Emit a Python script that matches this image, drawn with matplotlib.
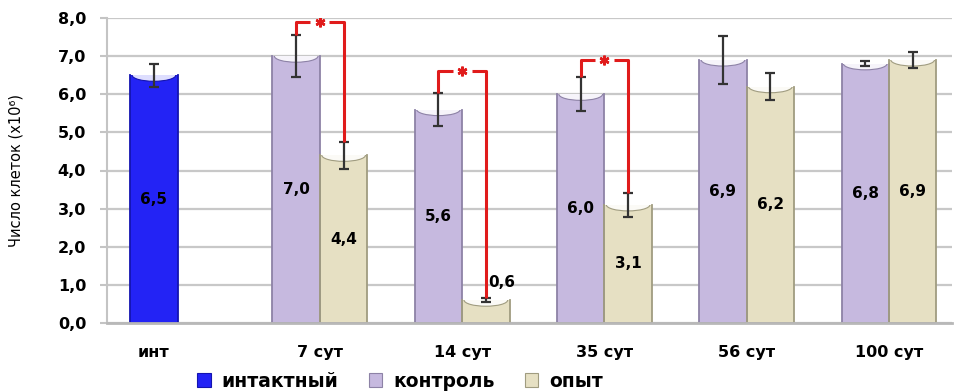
import numpy as np
import matplotlib.pyplot as plt
from matplotlib.patches import Ellipse, Patch
from matplotlib.colors import to_rgb


# cell counts (x10^6), mean and error
groups = ['инт', '7 сут', '14 сут', '35 сут', '56 сут', '100 сут']
intact_val = 6.5
intact_err = 0.3
control = [7.0, 5.6, 6.0, 6.9, 6.8]
control_err = [0.55, 0.43, 0.45, 0.62, 0.07]
opyt = [4.4, 0.6, 3.1, 6.2, 6.9]
opyt_err = [0.35, 0.05, 0.32, 0.35, 0.2]

# significant differences control vs опыт: day index and bracket height
sig_days = [0, 1, 2]
sig_top = [7.9, 6.6, 6.9]

series_names = ['интактный', 'контроль', 'опыт']

blue = '#2323f5'
lilac = '#c6b9df'
beige = '#e6e0c3'
edges = {blue: '#1414b0', lilac: '#8d82a6', beige: '#a09c80'}


def light(c, k=0.85):
    r = np.array(to_rgb(c))
    return tuple(r + (1 - r) * k)


def fmt(v):
    return f'{v:.1f}'.replace('.', ',')


fig = plt.figure(figsize=(9.57, 3.92), dpi=100)
ax = fig.add_axes([107 / 957, 69 / 392, 845 / 957, 305 / 392])

centers = 3 * (np.arange(len(control)) + 1)
w = 1.0


def draw_bar(x, v, err, color):
    b = ax.bar(x, v, width=w, color=color, edgecolor='none', zorder=2)[0]
    # side walls
    ax.plot([x - w / 2, x - w / 2, x + w / 2, x + w / 2], [v, 0, 0, v],
            color=edges[color], lw=1.3, zorder=2.5)
    notch = Ellipse((x, v), 0.92 * w, 0.32, facecolor=light(color),
                    edgecolor=edges[color], lw=0.8, zorder=3)
    ax.add_patch(notch)
    notch.set_clip_path(b)
    ax.errorbar(x, v, yerr=err, fmt='none', ecolor='#333333',
                elinewidth=1.6, capsize=3.5, capthick=1.6, zorder=4)
    if v < 1:
        ax.text(x + 0.05, v + 0.45, fmt(v), ha='left', va='center',
                fontsize=11, fontweight='bold', zorder=5)
    else:
        ax.text(x, v / 2, fmt(v), ha='center', va='center',
                fontsize=11, fontweight='bold', zorder=5)


draw_bar(-0.5, intact_val, intact_err, blue)
for i in range(len(control)):
    draw_bar(centers[i] - 0.5, control[i], control_err[i], lilac)
    draw_bar(centers[i] + 0.5, opyt[i], opyt_err[i], beige)

# significance brackets
red = '#e01b1b'
gap = 0.2
for d, top in zip(sig_days, sig_top):
    xl = centers[d] - 0.5
    xr = centers[d] + 0.5
    yl = control[d] + control_err[d]
    yr = opyt[d] + opyt_err[d]
    xm = centers[d]
    ax.plot([xl, xl, xm - gap], [yl, top, top], color=red, lw=2.2,
            solid_capstyle='butt', zorder=6)
    ax.plot([xm + gap, xr, xr], [top, top, yr], color=red, lw=2.2,
            solid_capstyle='butt', zorder=6)
    ax.plot(xm, top, marker=(6, 2, 0), ms=7, mew=1.8, color=red, zorder=6)

ax.set_xlim(-1.49, 16.33)
ax.set_ylim(0, 8)
ax.set_yticks(np.arange(0, 9))
ax.set_yticklabels([fmt(v) for v in np.arange(0, 9)],
                   fontsize=11.5, fontweight='bold')
ax.set_xticks([-0.5] + list(centers))
ax.set_xticklabels(groups, fontsize=11.5, fontweight='bold')
ax.tick_params(axis='x', length=0, pad=16)
ax.tick_params(axis='y', length=5, width=1.5, color='#c4c4c4', pad=10)

ax.grid(axis='y', color='#c8c8c8', lw=1.6, zorder=0)
ax.set_axisbelow(True)
for s in ['top', 'right']:
    ax.spines[s].set_visible(False)
ax.spines['left'].set_color('#c4c4c4')
ax.spines['left'].set_linewidth(1.5)
ax.spines['bottom'].set_color('#b8b8b8')
ax.spines['bottom'].set_linewidth(2)

ax.set_ylabel('Число клеток (x10⁶)', fontsize=10.5)
ax.yaxis.set_label_coords(-0.099, 0.5)

handles = [Patch(facecolor=c, edgecolor=edges[c], lw=0.8)
           for c in (blue, lilac, beige)]
fig.legend(handles, series_names, loc='center', bbox_to_anchor=(0.418, 0.028),
           ncol=3, frameon=False, handlelength=0.7, handleheight=0.7,
           handletextpad=0.6, columnspacing=1.6,
           prop={'size': 13.5, 'weight': 'bold'})

fig.savefig('out.png', dpi=100)
